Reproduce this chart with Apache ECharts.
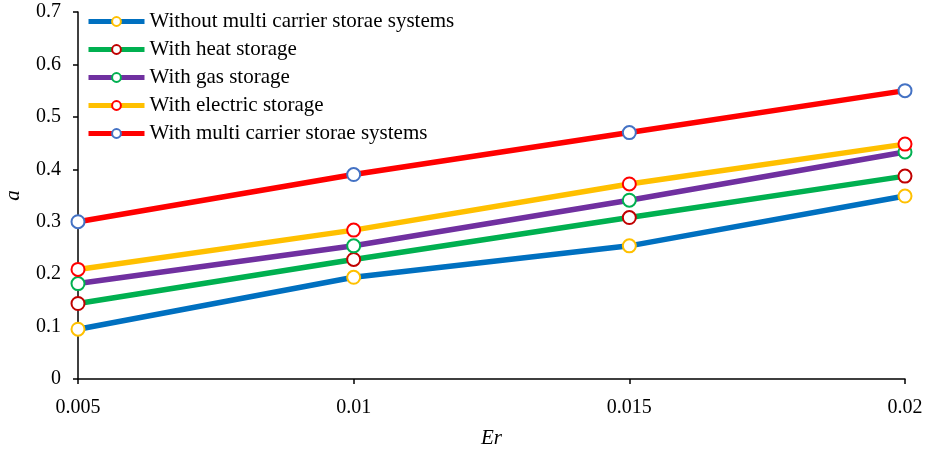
<!DOCTYPE html>
<html><head><meta charset="utf-8">
<script src="https://cdn.jsdelivr.net/npm/echarts@6/dist/echarts.min.js"></script>
<style>html,body{margin:0;padding:0;background:#fff}#c{width:928px;height:454px}</style>
</head><body><div id="c"></div>
<script>
const categories = ['0.005', '0.01', '0.015', '0.02'];
const withoutMulti = [0.095, 0.194, 0.254, 0.349];
const withHeat = [0.144, 0.228, 0.308, 0.387];
const withGas = [0.182, 0.254, 0.341, 0.433];
const withElectric = [0.209, 0.284, 0.372, 0.448];
const withMulti = [0.300, 0.390, 0.470, 0.550];
const seriesNames = ['Without multi carrier storae systems', 'With heat storage', 'With gas storage', 'With electric storage', 'With multi carrier storae systems'];
const lineColors = ['#0070C0', '#00B050', '#7030A0', '#FFC000', '#FF0000'];
const markerColors = ['#FFC000', '#C00000', '#00B050', '#FF0000', '#4472C4'];
const seriesData = [withoutMulti, withHeat, withGas, withElectric, withMulti];

const font = 'Liberation Serif';
const chart = echarts.init(document.getElementById('c'));
chart.setOption({
  animation: false,
  backgroundColor: '#fff',
  grid: { left: 78, right: 23, top: 12, bottom: 75, containLabel: false, outerBoundsMode: 'none' },
  legend: {
    left: 81, top: 6, orient: 'vertical', itemGap: 7,
    itemWidth: 56, itemHeight: 11,
    lineStyle: { width: 5 },
    textStyle: { fontFamily: font, fontSize: 21, color: '#000' },
    data: seriesNames
  },
  xAxis: {
    type: 'category', data: categories, boundaryGap: false,
    name: 'Er', nameLocation: 'middle', nameGap: 49,
    nameTextStyle: { fontFamily: font, fontSize: 21, fontStyle: 'italic', color: '#000' },
    axisLine: { lineStyle: { color: '#000', width: 1.5 } },
    axisTick: { show: true, length: 5, lineStyle: { color: '#000', width: 1.5 }, alignWithLabel: true },
    axisLabel: { fontFamily: font, fontSize: 20, color: '#000', margin: 19 },
    splitLine: { show: false }
  },
  yAxis: {
    type: 'value', min: 0, max: 0.7, interval: 0.1,
    name: 'a', nameLocation: 'middle', nameGap: 54,
    nameTextStyle: { fontFamily: font, fontSize: 21, fontStyle: 'italic', color: '#000' },
    axisLine: { show: true, lineStyle: { color: '#000', width: 1.5 } },
    axisTick: { show: true, length: 5, lineStyle: { color: '#000', width: 1.5 } },
    axisLabel: { fontFamily: font, fontSize: 20, color: '#000', margin: 17,
      formatter: v => String(Math.round(v * 10) / 10) },
    splitLine: { show: false }
  },
  series: seriesData.map((d, i) => ({
    name: seriesNames[i], type: 'line', data: d,
    symbol: 'circle', symbolSize: 13,
    lineStyle: { color: lineColors[i], width: 5.5 },
    itemStyle: { color: '#fff', borderColor: markerColors[i], borderWidth: 2 },
    emphasis: { disabled: true }
  }))
});
</script></body></html>
